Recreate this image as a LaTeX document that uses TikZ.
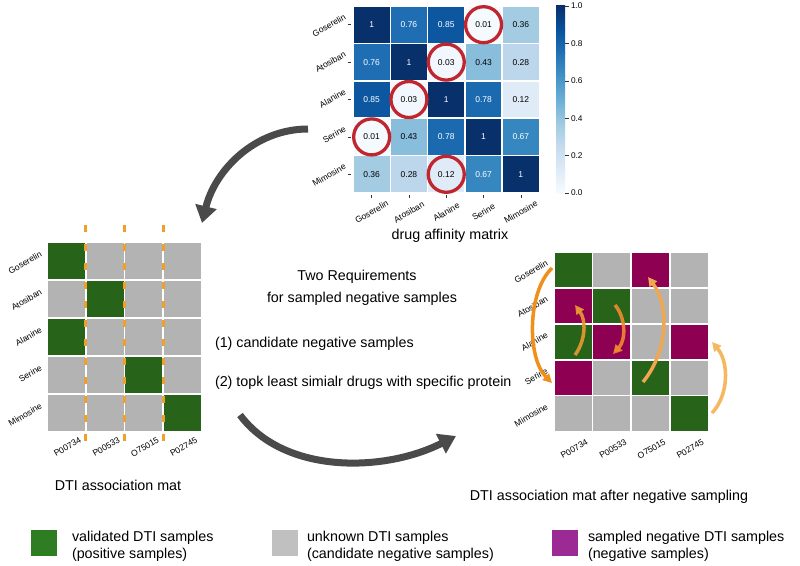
\documentclass[tikz,border=0pt]{standalone}
\usepackage{fontspec}
\setmainfont{Liberation Sans}
\usetikzlibrary{arrows.meta}
\definecolor{hm100}{HTML}{08306B}
\definecolor{hm085}{RGB}{13,87,161}
\definecolor{hm078}{RGB}{27,105,175}
\definecolor{hm076}{RGB}{31,110,179}
\definecolor{hm067}{RGB}{54,134,192}
\definecolor{hm043}{RGB}{136,190,220}
\definecolor{hm036}{RGB}{163,204,227}
\definecolor{hm028}{RGB}{188,215,236}
\definecolor{hm012}{RGB}{223,236,247}
\definecolor{hm003}{RGB}{241,247,253}
\definecolor{hm001}{RGB}{245,250,255}
\definecolor{cbA}{HTML}{F7FBFF}
\definecolor{cbB}{HTML}{DEEBF7}
\definecolor{cbC}{HTML}{C6DBEF}
\definecolor{cbD}{HTML}{9ECAE1}
\definecolor{cbE}{HTML}{6BAED6}
\definecolor{cbF}{HTML}{4292C6}
\definecolor{cbG}{HTML}{2171B5}
\definecolor{cbH}{HTML}{08519C}
\definecolor{cbI}{HTML}{08306B}
\definecolor{posgreen}{HTML}{276419}
\definecolor{neggray}{HTML}{B3B3B3}
\definecolor{negpurple}{HTML}{8E0152}
\definecolor{leggreen}{HTML}{2F7D23}
\definecolor{leggray}{HTML}{C0C0C0}
\definecolor{legpurple}{HTML}{9B2A95}
\definecolor{ringred}{HTML}{C0262D}
\definecolor{arrowgray}{HTML}{4A4A4A}
\definecolor{dashorange}{HTML}{F0A02A}
\definecolor{orA}{HTML}{F0901A}
\definecolor{orB}{HTML}{E89A30}
\definecolor{orC}{HTML}{F08A30}
\definecolor{orD}{HTML}{F0A850}
\definecolor{orE}{HTML}{F5B860}
\begin{document}
\begin{tikzpicture}[x=1pt,y=-1pt,
  every node/.style={inner sep=0pt, outer sep=0pt},
  bigtext/.style={font=\fontsize{14.3}{17.3}\selectfont},
  numtext/.style={font=\fontsize{8.5}{10}\selectfont},
  ticktext/.style={font=\fontsize{8.3}{10}\selectfont},
  smalltext/.style={font=\fontsize{8.6}{10}\selectfont},
  ring/.style={draw=ringred, line width=3.3pt},
  bigarrow/.style={draw=arrowgray, line width=7pt, -{Triangle[length=17pt,width=21pt]}},
  swaparrow/.style={line width=3.5pt, -{Triangle[length=9pt,width=9pt]}},
  colline/.style={draw=dashorange, line width=3pt, dash pattern=on 7pt off 12pt}
]
\useasboundingbox (0,0) rectangle (800,565);
\fill[white] (0,0) rectangle (800,565);

% ---------- heatmap ----------
\def\hx{353}\def\hy{6}\def\hw{37.3}\def\hh{37.4}
\foreach \r/\c/\v/\col/\tc in {
 0/0/1/hm100/white, 0/1/0.76/hm076/white, 0/2/0.85/hm085/white, 0/3/0.01/hm001/black, 0/4/0.36/hm036/black,
 1/0/0.76/hm076/white, 1/1/1/hm100/white, 1/2/0.03/hm003/black, 1/3/0.43/hm043/black, 1/4/0.28/hm028/black,
 2/0/0.85/hm085/white, 2/1/0.03/hm003/black, 2/2/1/hm100/white, 2/3/0.78/hm078/white, 2/4/0.12/hm012/black,
 3/0/0.01/hm001/black, 3/1/0.43/hm043/black, 3/2/0.78/hm078/white, 3/3/1/hm100/white, 3/4/0.67/hm067/white,
 4/0/0.36/hm036/black, 4/1/0.28/hm028/black, 4/2/0.12/hm012/black, 4/3/0.67/hm067/white, 4/4/1/hm100/white}{
  \fill[\col] ({\hx+\c*\hw+0.8},{\hy+\r*\hh+0.8}) rectangle ({\hx+(\c+1)*\hw-0.8},{\hy+(\r+1)*\hh-0.8});
  \node[numtext, text=\tc] (hm-\r-\c) at ({\hx+(\c+0.5)*\hw},{\hy+(\r+0.5)*\hh}) {\v};
}
\foreach \n [count=\i from 0] in {Goserelin,Atosiban,Alanine,Serine,Mimosine}{
  \draw[line width=0.6pt, black!80] (347.5,{\hy+(\i+0.5)*\hh}) -- (350.5,{\hy+(\i+0.5)*\hh});
  \node[smalltext, rotate=30, anchor=east] (hrow\i) at (345,{\hy+(\i+0.5)*\hh-8.5}) {\n};
  \draw[line width=0.6pt, black!80] ({\hx+(\i+0.5)*\hw},195) -- ({\hx+(\i+0.5)*\hw},198);
  \node[smalltext, rotate=30] (hcol\i) at ({\hx+(\i+0.5)*\hw},212) {\n};
}
% red rings
\foreach \r/\c in {0/3,1/2,2/1,3/0,4/2}{
  \draw[ring] (hm-\r-\c.center) circle (18pt);
}
% colorbar
\def\cbx{556}\def\cbr{565}
\foreach \a/\b/\ca/\cb in {0/0.125/cbA/cbB, 0.125/0.25/cbB/cbC, 0.25/0.375/cbC/cbD, 0.375/0.5/cbD/cbE,
  0.5/0.625/cbE/cbF, 0.625/0.75/cbF/cbG, 0.75/0.875/cbG/cbH, 0.875/1/cbH/cbI}{
  \shade[top color=\cb, bottom color=\ca] (\cbx,{193-\b*187-0.3}) rectangle (\cbr,{193-\a*187+0.3});
}
\foreach \t/\lab in {0/0.0,0.2/0.2,0.4/0.4,0.6/0.6,0.8/0.8,1/1.0}{
  \draw[line width=0.6pt, black!80] (\cbr,{193-\t*187}) -- (568.5,{193-\t*187});
  \node[ticktext, anchor=west] (cb\lab) at (571,{193-\t*187}) {\lab};
}
\node[bigtext] (hmtitle) at (450,236) {drug affinity matrix};

% ---------- left DTI matrix ----------
\def\lx{47}\def\ly{242}\def\lw{38.75}\def\lh{38}
\foreach \r/\c/\col in {
 0/0/posgreen,0/1/neggray,0/2/neggray,0/3/neggray,
 1/0/neggray,1/1/posgreen,1/2/neggray,1/3/neggray,
 2/0/posgreen,2/1/neggray,2/2/neggray,2/3/neggray,
 3/0/neggray,3/1/neggray,3/2/posgreen,3/3/neggray,
 4/0/neggray,4/1/neggray,4/2/neggray,4/3/posgreen}{
  \fill[\col] ({\lx+\c*\lw+0.8},{\ly+\r*\lh+0.8}) rectangle ({\lx+(\c+1)*\lw-0.8},{\ly+(\r+1)*\lh-0.8});
}
\foreach \xx in {85.5,124.5,163.5}{
  \draw[colline] (\xx,225) -- (\xx,442);
}
\foreach \n [count=\i from 0] in {Goserelin,Atosiban,Alanine,Serine,Mimosine}{
  \node[smalltext, rotate=30, anchor=east] (lrow\i) at (41,{\ly+(\i+0.5)*\lh-7.5}) {\n};
}
\foreach \n [count=\i from 0] in {P00734,P00533,O75015,P02745}{
  \node[smalltext, rotate=30] (lcol\i) at ({\lx+(\i+0.5)*\lw+1},447) {\n};
}
\node[bigtext] (ltitle) at (118,485) {DTI association mat};

% ---------- center text ----------
\node[bigtext] (req1) at (357,277) {Two Requirements};
\node[bigtext] (req2) at (362,299) {for sampled negative samples};
\node[bigtext, anchor=west] (req3) at (215,344) {(1) candidate negative samples};
\node[bigtext, anchor=west] (req4) at (215,383) {(2) topk least simialr drugs with specific protein};

% ---------- right DTI matrix ----------
\def\rx{554}\def\ry{252}\def\rw{38.6}\def\rh{35.9}
\foreach \r/\c/\col in {
 0/0/posgreen,0/1/neggray,0/2/negpurple,0/3/neggray,
 1/0/negpurple,1/1/posgreen,1/2/neggray,1/3/neggray,
 2/0/posgreen,2/1/negpurple,2/2/neggray,2/3/negpurple,
 3/0/negpurple,3/1/neggray,3/2/posgreen,3/3/neggray,
 4/0/neggray,4/1/neggray,4/2/neggray,4/3/posgreen}{
  \fill[\col] ({\rx+\c*\rw+0.8},{\ry+\r*\rh+0.8}) rectangle ({\rx+(\c+1)*\rw-0.8},{\ry+(\r+1)*\rh-0.8});
}
\foreach \n [count=\i from 0] in {Goserelin,Atosiban,Alanine,Serine,Mimosine}{
  \node[smalltext, rotate=30, anchor=east] (rrow\i) at (547,{\ry+(\i+0.5)*\rh-7.5}) {\n};
}
\foreach \n [count=\i from 0] in {P00734,P00533,O75015,P02745}{
  \node[smalltext, rotate=30] (rcol\i) at ({\rx+(\i+0.5)*\rw+1},449) {\n};
}
\node[bigtext] (rtitle) at (609,497) {DTI association mat after negative sampling};

% swap arrows
\coordinate (s1a) at (552,268); \coordinate (s1b) at (552,383);
\draw[swaparrow, draw=orA] (s1a) .. controls (527,292) and (527,358) .. (s1b);
\coordinate (s2a) at (575,355); \coordinate (s2b) at (575,305);
\draw[swaparrow, draw=orB, opacity=0.9] (s2a) .. controls (586,340) and (586,320) .. (s2b);
\coordinate (s3a) at (615,305); \coordinate (s3b) at (613,354);
\draw[swaparrow, draw=orC, opacity=0.9] (s3a) .. controls (626,318) and (626,340) .. (s3b);
\coordinate (s4a) at (643,382); \coordinate (s4b) at (648,277);
\draw[swaparrow, draw=orD] (s4a) .. controls (669,350) and (669,305) .. (s4b);
\coordinate (s5a) at (712,413); \coordinate (s5b) at (712,342);
\draw[swaparrow, draw=orE] (s5a) .. controls (729,395) and (729,362) .. (s5b);

% ---------- big gray arrows ----------
\coordinate (g1a) at (308,129); \coordinate (g1b) at (202,223);
\draw[bigarrow] (g1a) .. controls (255,129) and (215,170) .. (g1b);
\coordinate (g2a) at (240,415); \coordinate (g2b) at (456,436);
\draw[bigarrow] (g2a) .. controls (285,475) and (385,472) .. (g2b);

% ---------- legend ----------
\fill[leggreen] (31,530) rectangle (57,556);
\node[bigtext, anchor=west, align=left] (leg1) at (72,546) {validated DTI samples\\(positive samples)};
\fill[leggray] (272,530) rectangle (298,556);
\node[bigtext, anchor=west, align=left] (leg2) at (307,546) {unknown DTI samples\\(candidate negative samples)};
\fill[legpurple] (552,530) rectangle (578,556);
\node[bigtext, anchor=west, align=left] (leg3) at (588,546) {sampled negative DTI samples\\(negative samples)};
\end{tikzpicture}
\end{document}
